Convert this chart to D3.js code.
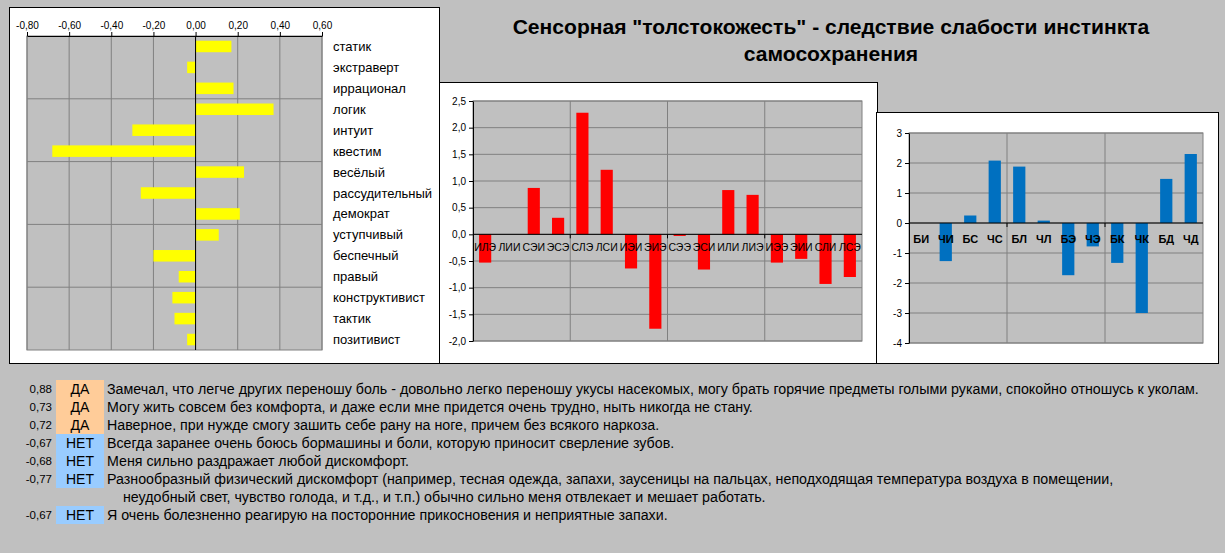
<!DOCTYPE html>
<html>
<head>
<meta charset="utf-8">
<script src="https://cdn.jsdelivr.net/npm/d3@7"></script>
<style>
  body { margin: 0; background: #c0c0c0; }
  svg { display: block; font-family: "Liberation Sans", Arial, sans-serif; }
</style>
</head>
<body>
<svg id="chart" width="1225" height="553"></svg>
<script>
// --- data ---
const titleLines = ["Сенсорная \"толстокожесть\" - следствие слабости инстинкта", "самосохранения"];

const traitNames = ["статик", "экстраверт", "иррационал", "логик", "интуит", "квестим", "весёлый",
    "рассудительный", "демократ", "уступчивый", "беспечный", "правый", "конструктивист", "тактик", "позитивист"];
const traitValues = [0.17, -0.04, 0.18, 0.37, -0.30, -0.68, 0.23, -0.26, 0.21, 0.11, -0.20, -0.08, -0.11, -0.10, -0.04];
const traitTicks = [-0.8, -0.6, -0.4, -0.2, 0, 0.2, 0.4, 0.6];

const typeNames = ["ИЛЭ", "ЛИИ", "СЭИ", "ЭСЭ", "СЛЭ", "ЛСИ", "ИЭИ", "ЭИЭ",
    "СЭЭ", "ЭСИ", "ИЛИ", "ЛИЭ", "ИЭЭ", "ЭИИ", "СЛИ", "ЛСЭ"];
const typeValues = [-0.53, 0, 0.87, 0.31, 2.28, 1.21, -0.64, -1.77, -0.03, -0.66, 0.83, 0.74, -0.53, -0.46, -0.93, -0.80];
const typeTicks = [-2, -1.5, -1, -0.5, 0, 0.5, 1, 1.5, 2, 2.5];

const blockNames = ["БИ", "ЧИ", "БС", "ЧС", "БЛ", "ЧЛ", "БЭ", "ЧЭ", "БК", "ЧК", "БД", "ЧД"];
const blockValues = [0, -1.27, 0.25, 2.08, 1.88, 0.08, -1.74, -0.78, -1.33, -3.0, 1.47, 2.30];
const blockTicks = [-4, -3, -2, -1, 0, 1, 2, 3];

const answerScores = ["0,88", "0,73", "0,72", "-0,67", "-0,68", "-0,77", "-0,67"];
const answers = ["ДА", "ДА", "ДА", "НЕТ", "НЕТ", "НЕТ", "НЕТ"];
const statements = [
    "Замечал, что легче других переношу боль - довольно легко переношу укусы насекомых, могу брать горячие предметы голыми руками, спокойно отношусь к уколам.",
    "Могу жить совсем без комфорта, и даже если мне придется очень трудно, ныть никогда не стану.",
    "Наверное, при нужде смогу зашить себе рану на ноге, причем без всякого наркоза.",
    "Всегда заранее очень боюсь бормашины и боли, которую приносит сверление зубов.",
    "Меня сильно раздражает любой дискомфорт.",
    "Разнообразный физический дискомфорт (например, тесная одежда, запахи, заусеницы на пальцах, неподходящая температура воздуха в помещении,\nнеудобный свет, чувство голода, и т.д., и т.п.) обычно сильно меня отвлекает и мешает работать.",
    "Я очень болезненно реагирую на посторонние прикосновения и неприятные запахи."
];

const svg = d3.select("#chart");
const comma = f => v => d3.format(f)(v).replace(".", ",").replace("−", "-");

function styleAxis(g, size) {
    g.selectAll("path").attr("stroke", "#000");
    g.selectAll("line").attr("stroke", "#000");
    g.selectAll("text").attr("fill", "#000").style("font-size", size + "px").style("font-family", null);
}

// title
const title = svg.append("g");
title.selectAll("text")
    .data(titleLines)
    .enter().append("text")
    .attr("x", 831)
    .attr("y", (d, i) => 34 + i * 27)
    .attr("text-anchor", "middle")
    .style("font-size", "18px")
    .style("font-weight", "bold")
    .text(d => d);
// first title line spans about 637px in the picture
const titleLen = title.select("text").node().getComputedTextLength();
title.selectAll("text").style("font-size", (18 * 637 / titleLen) + "px");

// ---------- left chart: traits ----------
const left = svg.append("g");
left.append("rect").attr("x", 9.5).attr("y", 7.5).attr("width", 430).attr("height", 356)
    .attr("fill", "#fff").attr("stroke", "#000");

const xT = d3.scaleLinear().domain([-0.8, 0.6]).range([27, 322]);
const yT = d3.scaleBand().domain(traitNames).range([36, 350]).paddingInner(0.45).paddingOuter(0.225);

left.append("rect").attr("x", 27).attr("y", 36).attr("width", 295).attr("height", 314)
    .attr("fill", "#c0c0c0").attr("stroke", "#808080");

left.selectAll(".vgrid").data(traitTicks).enter().append("line")
    .attr("x1", d => xT(d)).attr("x2", d => xT(d)).attr("y1", 36).attr("y2", 350)
    .attr("stroke", "#808080");

const tGap = (yT.step() - yT.bandwidth()) / 2;
left.selectAll(".hgrid").data([3, 6, 9, 12]).enter().append("line")
    .attr("x1", 27).attr("x2", 322)
    .attr("y1", i => yT(traitNames[i]) - tGap).attr("y2", i => yT(traitNames[i]) - tGap)
    .attr("stroke", "#808080");

left.selectAll(".bar").data(traitValues).enter().append("rect")
    .attr("x", d => xT(Math.min(0, d)))
    .attr("y", (d, i) => yT(traitNames[i]))
    .attr("width", d => Math.abs(xT(d) - xT(0)))
    .attr("height", yT.bandwidth())
    .attr("fill", "#ffff00");

left.append("line").attr("x1", xT(0)).attr("x2", xT(0)).attr("y1", 36).attr("y2", 350).attr("stroke", "#000");

left.append("g").attr("transform", "translate(0,36)")
    .call(d3.axisTop(xT).tickValues(traitTicks).tickSize(4).tickSizeOuter(0).tickFormat(comma(".2f")))
    .call(g => styleAxis(g, 10));

left.selectAll(".lbl").data(traitNames).enter().append("text")
    .attr("x", 333)
    .attr("y", d => yT(d) + yT.bandwidth() / 2)
    .attr("dy", "0.35em")
    .style("font-size", "13px")
    .text(d => d);

// ---------- middle chart: types ----------
const mid = svg.append("g");
mid.append("rect").attr("x", 439.5).attr("y", 82.5).attr("width", 438).attr("height", 281)
    .attr("fill", "#fff").attr("stroke", "#000");

const xM = d3.scaleBand().domain(typeNames).range([473, 862]).paddingInner(0.5).paddingOuter(0.25);
const yM = d3.scaleLinear().domain([-2, 2.5]).range([341, 101]);

mid.append("rect").attr("x", 473).attr("y", 101).attr("width", 389).attr("height", 240)
    .attr("fill", "#c0c0c0").attr("stroke", "#808080");

mid.selectAll(".hgrid").data(typeTicks).enter().append("line")
    .attr("x1", 473).attr("x2", 862).attr("y1", d => yM(d)).attr("y2", d => yM(d))
    .attr("stroke", "#808080");

const mGap = (xM.step() - xM.bandwidth()) / 2;
mid.selectAll(".vgrid").data([4, 8, 12]).enter().append("line")
    .attr("x1", i => xM(typeNames[i]) - mGap).attr("x2", i => xM(typeNames[i]) - mGap)
    .attr("y1", 101).attr("y2", 341)
    .attr("stroke", "#808080");

mid.selectAll(".bar").data(typeValues).enter().append("rect")
    .attr("x", (d, i) => xM(typeNames[i]))
    .attr("y", d => yM(Math.max(0, d)))
    .attr("width", xM.bandwidth())
    .attr("height", d => Math.abs(yM(d) - yM(0)))
    .attr("fill", "#ff0000");

mid.append("g").attr("transform", "translate(473,0)")
    .call(d3.axisLeft(yM).tickValues(typeTicks).tickSize(4).tickSizeOuter(0).tickFormat(comma(".1f")))
    .call(g => styleAxis(g, 10));

mid.append("line").attr("x1", 473).attr("x2", 862).attr("y1", yM(0)).attr("y2", yM(0)).attr("stroke", "#000");
mid.selectAll(".xtick").data([4, 8, 12]).enter().append("line")
    .attr("x1", i => xM(typeNames[i]) - mGap).attr("x2", i => xM(typeNames[i]) - mGap)
    .attr("y1", yM(0)).attr("y2", yM(0) + 4)
    .attr("stroke", "#000");

mid.selectAll(".lbl").data(typeNames).enter().append("text")
    .attr("x", d => xM(d) + xM.bandwidth() / 2)
    .attr("y", yM(0) + 13)
    .attr("dy", "0.35em")
    .attr("text-anchor", "middle")
    .style("font-size", "10.5px")
    .text(d => d);

// ---------- right chart: blocks ----------
const right = svg.append("g");
right.append("rect").attr("x", 876.5).attr("y", 112.5).attr("width", 342).attr("height", 251)
    .attr("fill", "#fff").attr("stroke", "#000");

const xB = d3.scaleBand().domain(blockNames).range([909, 1203]).paddingInner(0.5).paddingOuter(0.25);
const yB = d3.scaleLinear().domain([-4, 3]).range([343, 133]);

right.append("rect").attr("x", 909).attr("y", 133).attr("width", 294).attr("height", 210)
    .attr("fill", "#c0c0c0").attr("stroke", "#808080");

right.selectAll(".hgrid").data(blockTicks).enter().append("line")
    .attr("x1", 909).attr("x2", 1203).attr("y1", d => yB(d)).attr("y2", d => yB(d))
    .attr("stroke", "#808080");

const bGap = (xB.step() - xB.bandwidth()) / 2;
right.selectAll(".vgrid").data([4, 8]).enter().append("line")
    .attr("x1", i => xB(blockNames[i]) - bGap).attr("x2", i => xB(blockNames[i]) - bGap)
    .attr("y1", 133).attr("y2", 343)
    .attr("stroke", "#808080");

right.selectAll(".bar").data(blockValues).enter().append("rect")
    .attr("x", (d, i) => xB(blockNames[i]))
    .attr("y", d => yB(Math.max(0, d)))
    .attr("width", xB.bandwidth())
    .attr("height", d => Math.abs(yB(d) - yB(0)))
    .attr("fill", "#0070c0");

right.append("g").attr("transform", "translate(909,0)")
    .call(d3.axisLeft(yB).tickValues(blockTicks).tickSize(4).tickSizeOuter(0).tickFormat(comma("d")))
    .call(g => styleAxis(g, 10));

right.append("line").attr("x1", 909).attr("x2", 1203).attr("y1", yB(0)).attr("y2", yB(0)).attr("stroke", "#000");
right.selectAll(".xtick").data([4, 8]).enter().append("line")
    .attr("x1", i => xB(blockNames[i]) - bGap).attr("x2", i => xB(blockNames[i]) - bGap)
    .attr("y1", yB(0)).attr("y2", yB(0) + 4)
    .attr("stroke", "#000");

right.selectAll(".lbl").data(blockNames).enter().append("text")
    .attr("x", d => xB(d) + xB.bandwidth() / 2)
    .attr("y", yB(0) + 16)
    .attr("dy", "0.35em")
    .attr("text-anchor", "middle")
    .style("font-size", "11px")
    .style("font-weight", "bold")
    .text(d => d);

// ---------- statements below ----------
const rows = svg.append("g");
let row = 0;
statements.forEach((s, i) => {
    const top = 380 + row * 18;
    rows.append("rect").attr("x", 56).attr("y", top).attr("width", 48).attr("height", 18)
        .attr("fill", answers[i] === "ДА" ? "#ffcc99" : "#99ccff");
    rows.append("text").attr("x", 52).attr("y", top + 9).attr("dy", "0.35em")
        .attr("text-anchor", "end").style("font-size", "11.5px").text(answerScores[i]);
    rows.append("text").attr("x", 80).attr("y", top + 9).attr("dy", "0.35em")
        .attr("text-anchor", "middle").style("font-size", "14px").text(answers[i]);
    s.split("\n").forEach((line, j) => {
        rows.append("text").attr("class", "stmt")
            .attr("x", j === 0 ? 107 : 123)
            .attr("y", 380 + row * 18 + 9).attr("dy", "0.35em")
            .style("font-size", "14px").text(line);
        row++;
    });
});

// the first line should end near x=1200 like in the picture
const firstLen = rows.select(".stmt").node().getComputedTextLength();
rows.selectAll(".stmt").style("font-size", (14 * 1093 / firstLen) + "px");
</script>
</body>
</html>
